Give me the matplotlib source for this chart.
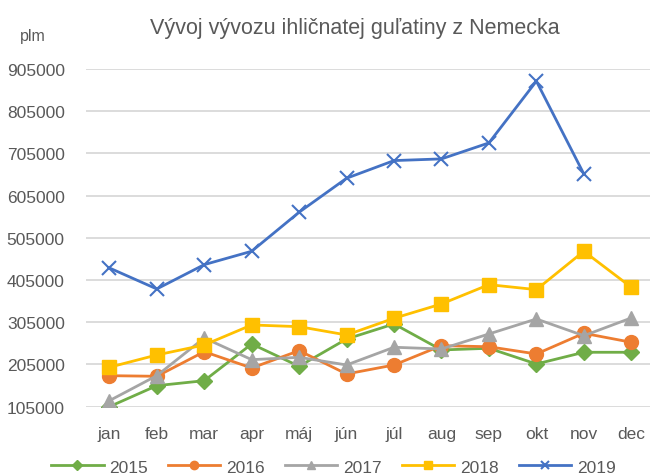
import matplotlib.pyplot as plt

plt.rcParams['font.family'] = ['Liberation Sans', 'DejaVu Sans']

months = ['jan', 'feb', 'mar', 'apr', 'máj', 'jún', 'júl', 'aug', 'sep', 'okt', 'nov', 'dec']

y2015 = [105000, 154800, 166600, 253600, 200700, 265400, 301000, 239400, 243400, 206200, 233900, 233900]
y2016 = [178500, 177000, 235300, 196700, 237700, 182500, 203800, 249600, 247000, 229900, 278900, 257600]
y2017 = [119200, 178500, 267800, 216400, 222000, 203800, 245800, 241700, 277300, 312800, 273200, 315200]
y2018 = [198400, 227500, 251200, 298600, 294600, 274900, 314500, 348400, 394100, 382300, 473200, 387900]
y2019 = [433700, 383900, 441500, 473200, 565700, 646200, 688000, 692000, 729900, 876100, 656400]

yticks = list(range(105000, 905001, 100000))

series = [
    ('2015', y2015, '#70AD47', 'D', 8),
    ('2016', y2016, '#ED7D31', 'o', 10),
    ('2017', y2017, '#A5A5A5', '^', 10),
    ('2018', y2018, '#FFC000', 's', 10),
    ('2019', y2019, '#4472C4', 'x', 10),
]

fig = plt.figure(figsize=(6.5, 4.77), dpi=100)
ax = fig.add_axes([0.1317, 0.1453, 0.876, 0.708])

for name, vals, col, mk, ms in series:
    x = list(range(len(vals)))
    kw = dict(markeredgewidth=1.5) if mk == 'x' else dict(markeredgecolor=col)
    ax.plot(x, vals, color=col, lw=2, marker=mk, markersize=ms, label=name, **kw)

ax.set_xlim(-0.5, 11.5)
ax.set_ylim(105000, 905000)
ax.set_yticks(yticks)
ax.set_yticklabels([str(v) for v in yticks])
ax.set_xticks(range(12))
ax.set_xticklabels(months)
ax.tick_params(length=0, labelsize=12.5, colors='#595959')
ax.tick_params(axis='y', pad=15)
ax.tick_params(axis='x', pad=14)
ax.grid(axis='y', color='#d9d9d9', lw=1.3)
ax.set_axisbelow(True)
for s in ax.spines.values():
    s.set_visible(False)

fig.text(0.546, 0.941, 'Vývoj vývozu ihličnatej guľatiny z Nemecka', ha='center', va='center',
         fontsize=15.5, color='#595959')
fig.text(0.051, 0.923, 'plm', ha='center', va='center', fontsize=11.5, color='#595959')

leg = fig.legend(loc='center', bbox_to_anchor=(0.513, 0.019), ncol=5, frameon=False,
                 fontsize=12.5, handlelength=3.0, handletextpad=0.35, columnspacing=1.15,
                 markerscale=0.6)
for t in leg.get_texts():
    t.set_color('#595959')

fig.savefig('out.png', dpi=100)
